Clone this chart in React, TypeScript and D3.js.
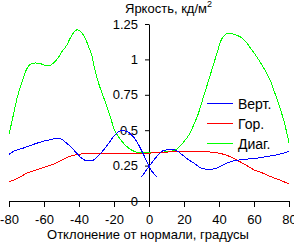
import React, { useEffect, useRef } from "react";
import * as d3 from "d3";

// углы (градусы) и яркость (кд/м2) для каждой кривой
const diagAngles = [-80, -78, -75, -72, -70, -68, -65, -62, -60, -57, -55, -52, -50, -47, -45, -43, -41, -38.5, -36.5, -34.5, -32.5, -31, -28.5, -25, -22, -20, -17.5, -14, -10, -7, 0, 7, 12, 15, 18, 20, 23, 26, 28, 30, 33, 36, 39, 41, 43.5, 46, 49, 52, 55, 58, 61.5, 65, 69, 72, 75, 77, 80];
const diagValues = [0.47, 0.58, 0.745, 0.86, 0.93, 0.963, 0.975, 0.97, 0.96, 0.955, 0.97, 1.01, 1.05, 1.1, 1.15, 1.19, 1.21, 1.19, 1.15, 1.09, 1.02, 0.93, 0.82, 0.7, 0.59, 0.51, 0.455, 0.4, 0.36, 0.345, 0.345, 0.345, 0.35, 0.36, 0.39, 0.42, 0.47, 0.55, 0.61, 0.69, 0.81, 0.93, 1.05, 1.13, 1.175, 1.185, 1.176, 1.16, 1.13, 1.08, 1.02, 0.95, 0.86, 0.76, 0.65, 0.57, 0.41];

const horAngles = [-80, -75, -70, -65, -60, -55, -50, -45, -40, -35, -30, -20, -10, -5, 0, 5, 10, 15, 20, 25, 30, 35, 40, 45, 50, 55, 60, 65, 70, 75, 80];
const horValues = [0.135, 0.16, 0.195, 0.218, 0.237, 0.258, 0.288, 0.316, 0.33, 0.335, 0.335, 0.335, 0.335, 0.336, 0.338, 0.342, 0.345, 0.35, 0.352, 0.352, 0.35, 0.346, 0.338, 0.32, 0.29, 0.257, 0.22, 0.197, 0.17, 0.147, 0.12];

// вертикальная кривая нарисована двумя кусками, которые перекрещиваются у нуля
const vertLeftAngles = [-80, -77.5, -72, -66, -61, -56.5, -52.5, -50, -47, -44, -41.3, -38.5, -35, -32.5, -30.5, -27, -23, -19.5, -15.5, -12.5, -10, -7, -4, -1.3, 0, 4.4];
const vertLeftValues = [0.33, 0.35, 0.373, 0.4, 0.42, 0.432, 0.444, 0.436, 0.408, 0.373, 0.338, 0.302, 0.283, 0.285, 0.3, 0.345, 0.408, 0.467, 0.498, 0.49, 0.467, 0.42, 0.35, 0.28, 0.243, 0.172];
const vertRightAngles = [-4.2, 0, 3.5, 7.2, 10, 13, 15.8, 19, 22.5, 26, 30, 34, 37.7, 40.6, 44.4, 48.2, 52, 56.7, 61.5, 67.2, 73, 76.7, 80];
const vertRightValues = [0.172, 0.243, 0.3, 0.35, 0.361, 0.366, 0.356, 0.326, 0.292, 0.265, 0.232, 0.224, 0.227, 0.243, 0.267, 0.283, 0.29, 0.297, 0.302, 0.314, 0.326, 0.338, 0.35];

const xTicks = [-80, -60, -40, -20, 0, 20, 40, 60, 80];
const yTicks = [0, 0.25, 0.5, 0.75, 1, 1.25];

const legendNames = ["Верт.", "Гор.", "Диаг."];
const legendColors = ["#0000ff", "#ff0000", "#00ff00"];

const FONT = "'Liberation Sans', Arial, sans-serif";

const App: React.FC = () => {
  const svgRef = useRef<SVGSVGElement | null>(null);

  useEffect(() => {
    const width = 294;
    const height = 242;

    const x = d3.scaleLinear().domain([-80, 80]).range([9, 289]);
    const y = d3.scaleLinear().domain([0, 1.25]).range([201, 24]);

    const svg = d3.select(svgRef.current);
    svg.selectAll("*").remove();
    svg
      .attr("width", width)
      .attr("height", height)
      .attr("viewBox", [0, 0, width, height])
      .style("font-family", FONT);

    const line = (xs: number[]) =>
      d3
        .line<number>()
        .x((_, i) => x(xs[i]))
        .y((d) => y(d))
        .curve(d3.curveMonotoneX);

    // x axis
    svg
      .append("g")
      .attr("transform", `translate(0,${y(0)})`)
      .call(d3.axisBottom(x).tickValues(xTicks).tickSize(6).tickSizeOuter(0).tickPadding(8).tickFormat((d) => String(d)))
      .call((g) => g.selectAll("text").style("font-size", "13px").style("font-family", FONT).attr("fill", "#000"))
      .call((g) => g.selectAll("line,path").attr("stroke", "#000"));

    // y axis
    svg
      .append("g")
      .attr("transform", `translate(${x(0)},0)`)
      .call(d3.axisLeft(y).tickValues(yTicks).tickSize(4).tickSizeOuter(0).tickPadding(7).tickFormat((d) => String(d)))
      .call((g) => g.selectAll("text").style("font-size", "13px").style("font-family", FONT).attr("fill", "#000"))
      .call((g) => g.selectAll("line,path").attr("stroke", "#000"));

    const curves: [number[], number[], string][] = [
      [diagAngles, diagValues, legendColors[2]],
      [horAngles, horValues, legendColors[1]],
      [vertLeftAngles, vertLeftValues, legendColors[0]],
      [vertRightAngles, vertRightValues, legendColors[0]],
    ];
    curves.forEach(([xs, vs, c]) => {
      svg
        .append("path")
        .datum(vs)
        .attr("fill", "none")
        .attr("stroke", c)
        .attr("stroke-width", 1)
        .attr("shape-rendering", "crispEdges")
        .attr("d", line(xs));
    });

    // title
    const title = svg
      .append("text")
      .attr("x", 125)
      .attr("y", 13)
      .style("font-size", "13px")
      .attr("fill", "#000");
    title.append("tspan").text("Яркость, кд/м");
    title.append("tspan").attr("dy", -6).style("font-size", "9px").text("2");

    svg
      .append("text")
      .attr("x", 148)
      .attr("y", 239)
      .attr("text-anchor", "middle")
      .style("font-size", "13px")
      .attr("fill", "#000")
      .text("Отклонение от нормали, градусы");

    // legend
    legendNames.forEach((name, i) => {
      const lg = svg.append("g").attr("transform", `translate(207,${103.5 + i * 20})`);
      lg.append("line")
        .attr("x1", 0)
        .attr("x2", 26)
        .attr("y1", 0)
        .attr("y2", 0)
        .attr("stroke", legendColors[i])
        .attr("stroke-width", 1)
        .attr("shape-rendering", "crispEdges");
      lg.append("text")
        .attr("x", 31)
        .attr("y", 5)
        .style("font-size", "14px")
        .attr("fill", "#000")
        .text(name);
    });
  }, []);

  return (
    <div style={{ position: "absolute", left: 0, top: 0, width: 294, height: 242, background: "#fff" }}>
      <svg ref={svgRef} style={{ display: "block" }}></svg>
    </div>
  );
};

export default App;
